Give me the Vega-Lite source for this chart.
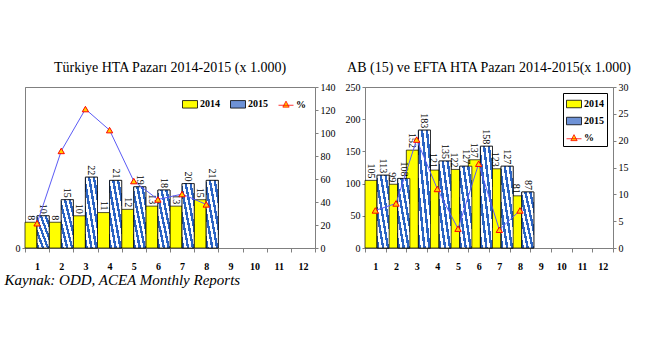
{
  "$schema": "https://vega.github.io/schema/vega-lite/v6.json",
  "background": "white",
  "padding": {"left": 4, "top": 60, "right": 0, "bottom": 0},
  "bounds": "flush",
  "spacing": 50,
  "datasets": {
    "tr_bars": [
      {"month": 1, "series": "2014", "value": 8}, {"month": 1, "series": "2015", "value": 10},
      {"month": 2, "series": "2014", "value": 8}, {"month": 2, "series": "2015", "value": 15},
      {"month": 3, "series": "2014", "value": 10}, {"month": 3, "series": "2015", "value": 22},
      {"month": 4, "series": "2014", "value": 11}, {"month": 4, "series": "2015", "value": 21},
      {"month": 5, "series": "2014", "value": 12}, {"month": 5, "series": "2015", "value": 19},
      {"month": 6, "series": "2014", "value": 13}, {"month": 6, "series": "2015", "value": 18},
      {"month": 7, "series": "2014", "value": 13}, {"month": 7, "series": "2015", "value": 20},
      {"month": 8, "series": "2014", "value": 15}, {"month": 8, "series": "2015", "value": 21}
    ],
    "tr_pct": [
      {"month": 1, "pct": 21.5}, {"month": 2, "pct": 84.4}, {"month": 3, "pct": 120.8}, {"month": 4, "pct": 102.5},
      {"month": 5, "pct": 58.2}, {"month": 6, "pct": 42.2}, {"month": 7, "pct": 46.9}, {"month": 8, "pct": 37.9}
    ],
    "eu_bars": [
      {"month": 1, "series": "2014", "value": 105}, {"month": 1, "series": "2015", "value": 113},
      {"month": 2, "series": "2014", "value": 99}, {"month": 2, "series": "2015", "value": 108},
      {"month": 3, "series": "2014", "value": 152}, {"month": 3, "series": "2015", "value": 183},
      {"month": 4, "series": "2014", "value": 121}, {"month": 4, "series": "2015", "value": 135},
      {"month": 5, "series": "2014", "value": 122}, {"month": 5, "series": "2015", "value": 127},
      {"month": 6, "series": "2014", "value": 137}, {"month": 6, "series": "2015", "value": 158},
      {"month": 7, "series": "2014", "value": 123}, {"month": 7, "series": "2015", "value": 127},
      {"month": 8, "series": "2014", "value": 81}, {"month": 8, "series": "2015", "value": 87}
    ],
    "eu_pct": [
      {"month": 1, "pct": 7.0}, {"month": 2, "pct": 8.3}, {"month": 3, "pct": 20.2}, {"month": 4, "pct": 11.0},
      {"month": 5, "pct": 3.6}, {"month": 6, "pct": 15.7}, {"month": 7, "pct": 3.4}, {"month": 8, "pct": 7.0}
    ]
  },
  "config": {
    "font": "Liberation Serif",
    "view": {"stroke": "#808080", "strokeWidth": 1},
    "axis": {
      "labelFont": "Liberation Serif", "labelFontSize": 10, "labelColor": "#000000",
      "domainColor": "#808080", "tickColor": "#808080", "grid": false, "title": null,
      "tickSize": 3, "labelPadding": 2
    },
    "axisX": {"labelFontWeight": "bold", "labelAngle": 0, "tickBand": "extent", "labelPadding": 9, "tickSize": 4},
    "title": {"font": "Liberation Serif", "fontSize": 14, "fontWeight": "normal", "color": "#000000", "offset": 7},
    "legend": {
      "title": null,
      "labelFont": "Liberation Serif", "labelFontWeight": "bold", "labelFontSize": 10, "labelColor": "#000000",
      "symbolType": "M-1,-0.5H1V0.5H-1Z", "symbolSize": 225, "symbolStrokeColor": "#000000", "symbolStrokeWidth": 0.8,
      "labelOffset": 2
    }
  },
  "title": {
    "text": "Kaynak: ODD, ACEA Monthly Reports",
    "orient": "bottom", "anchor": "start", "frame": "bounds",
    "fontStyle": "italic", "fontSize": 15, "offset": 1, "dx": -10
  },
  "resolve": {"scale": {"fill": "independent"}, "legend": {"fill": "independent"}},
  "hconcat": [
    {
      "width": 290, "height": 161,
      "title": "Türkiye HTA Pazarı 2014-2015 (x 1.000)",
      "layer": [
        {
          "data": {"name": "tr_bars"},
          "encoding": {
            "x": {"field": "month", "type": "ordinal", "scale": {"domain": [1,2,3,4,5,6,7,8,9,10,11,12], "paddingInner": 0, "paddingOuter": 0}},
            "xOffset": {"field": "series", "type": "nominal", "scale": {"domain": ["2014", "2015"], "paddingInner": 0, "paddingOuter": 0}},
            "y": {"field": "value", "type": "quantitative", "scale": {"domain": [0, 50]}, "axis": {"orient": "left", "values": [0]}}
          },
          "layer": [
            {
              "mark": {"type": "bar", "stroke": "#000000", "strokeWidth": 0.7},
              "encoding": {
                "fill": {
                  "field": "series", "type": "nominal",
                  "scale": {"domain": ["2014", "2015", "%"], "range": ["#FFFF00", "#6E92D6", "#FFD200"]},
                  "legend": {
                    "orient": "top-right", "direction": "horizontal", "offset": 9, "columnPadding": 8,
                    "encode": {"symbols": {"update": {
                      "shape": {"signal": "datum.value === '%' ? 'M-1,0.1H1M0,-0.45L0.42,0.35L-0.42,0.35Z' : 'M-1,-0.5H1V0.5H-1Z'"},
                      "stroke": {"signal": "datum.value === '%' ? '#FF0000' : '#000000'"}
                    }}}
                  }
                }
              }
            },
            {
              "transform": [{"filter": "datum.series === '2015'"}],
              "mark": {"type": "bar", "stroke": "#000000", "strokeWidth": 0.7,
                "fill": {"gradient": "linear", "x1": 0, "y1": 1, "x2": 1, "y2": 0, "stops": [
                  {"offset": 0, "color": "#2B64C4"}, {"offset": 0.1, "color": "#2B64C4"},
                  {"offset": 0.1, "color": "#FFFFFF"}, {"offset": 0.2, "color": "#FFFFFF"},
                  {"offset": 0.2, "color": "#2B64C4"}, {"offset": 0.3, "color": "#2B64C4"},
                  {"offset": 0.3, "color": "#FFFFFF"}, {"offset": 0.4, "color": "#FFFFFF"},
                  {"offset": 0.4, "color": "#2B64C4"}, {"offset": 0.5, "color": "#2B64C4"},
                  {"offset": 0.5, "color": "#FFFFFF"}, {"offset": 0.6, "color": "#FFFFFF"},
                  {"offset": 0.6, "color": "#2B64C4"}, {"offset": 0.7, "color": "#2B64C4"},
                  {"offset": 0.7, "color": "#FFFFFF"}, {"offset": 0.8, "color": "#FFFFFF"},
                  {"offset": 0.8, "color": "#2B64C4"}, {"offset": 0.9, "color": "#2B64C4"},
                  {"offset": 0.9, "color": "#FFFFFF"}, {"offset": 1, "color": "#FFFFFF"}
                ]}}
            },
            {
              "mark": {"type": "text", "angle": 90, "align": "right", "baseline": "middle", "dx": -2, "fontSize": 10, "color": "#000000"},
              "encoding": {"text": {"field": "value", "type": "quantitative"}}
            }
          ]
        },
        {
          "data": {"name": "tr_pct"},
          "encoding": {
            "x": {"field": "month", "type": "ordinal", "scale": {"domain": [1,2,3,4,5,6,7,8,9,10,11,12], "paddingInner": 0, "paddingOuter": 0}},
            "y": {"field": "pct", "type": "quantitative", "scale": {"domain": [0, 140]}, "axis": {"orient": "right", "values": [0,20,40,60,80,100,120,140]}}
          },
          "layer": [
            {"mark": {"type": "line", "color": "#5B5BF5", "strokeWidth": 1}},
            {"mark": {"type": "point", "shape": "triangle-up", "filled": true, "fill": "#FFD200", "stroke": "#FF0000", "strokeWidth": 1, "size": 40, "opacity": 1}}
          ]
        }
      ],
      "resolve": {"scale": {"y": "independent"}}
    },
    {
      "width": 248, "height": 161,
      "title": "AB (15) ve EFTA HTA Pazarı 2014-2015(x 1.000)",
      "layer": [
        {
          "data": {"name": "eu_bars"},
          "encoding": {
            "x": {"field": "month", "type": "ordinal", "scale": {"domain": [1,2,3,4,5,6,7,8,9,10,11,12], "paddingInner": 0, "paddingOuter": 0}},
            "xOffset": {"field": "series", "type": "nominal", "scale": {"domain": ["2014", "2015"], "paddingInner": 0, "paddingOuter": 0}},
            "y": {"field": "value", "type": "quantitative", "scale": {"domain": [0, 250]}, "axis": {"orient": "left", "values": [0,50,100,150,200,250]}}
          },
          "layer": [
            {
              "mark": {"type": "bar", "stroke": "#000000", "strokeWidth": 0.7},
              "encoding": {
                "fill": {
                  "field": "series", "type": "nominal",
                  "scale": {"domain": ["2014", "2015", "%"], "range": ["#FFFF00", "#6E92D6", "#FFD200"]},
                  "legend": {
                    "orient": "top-right", "direction": "vertical", "offset": 6,
                    "strokeColor": "#000000", "padding": 3, "rowPadding": 3,
                    "encode": {"symbols": {"update": {
                      "shape": {"signal": "datum.value === '%' ? 'M-1,0.1H1M0,-0.45L0.42,0.35L-0.42,0.35Z' : 'M-1,-0.5H1V0.5H-1Z'"},
                      "stroke": {"signal": "datum.value === '%' ? '#FF0000' : '#000000'"}
                    }}}
                  }
                }
              }
            },
            {
              "transform": [{"filter": "datum.series === '2015'"}],
              "mark": {"type": "bar", "stroke": "#000000", "strokeWidth": 0.7,
                "fill": {"gradient": "linear", "x1": 0, "y1": 1, "x2": 1, "y2": 0, "stops": [
                  {"offset": 0, "color": "#2B64C4"}, {"offset": 0.1, "color": "#2B64C4"},
                  {"offset": 0.1, "color": "#FFFFFF"}, {"offset": 0.2, "color": "#FFFFFF"},
                  {"offset": 0.2, "color": "#2B64C4"}, {"offset": 0.3, "color": "#2B64C4"},
                  {"offset": 0.3, "color": "#FFFFFF"}, {"offset": 0.4, "color": "#FFFFFF"},
                  {"offset": 0.4, "color": "#2B64C4"}, {"offset": 0.5, "color": "#2B64C4"},
                  {"offset": 0.5, "color": "#FFFFFF"}, {"offset": 0.6, "color": "#FFFFFF"},
                  {"offset": 0.6, "color": "#2B64C4"}, {"offset": 0.7, "color": "#2B64C4"},
                  {"offset": 0.7, "color": "#FFFFFF"}, {"offset": 0.8, "color": "#FFFFFF"},
                  {"offset": 0.8, "color": "#2B64C4"}, {"offset": 0.9, "color": "#2B64C4"},
                  {"offset": 0.9, "color": "#FFFFFF"}, {"offset": 1, "color": "#FFFFFF"}
                ]}}
            },
            {
              "mark": {"type": "text", "angle": 90, "align": "right", "baseline": "middle", "dx": -2, "fontSize": 10, "color": "#000000"},
              "encoding": {"text": {"field": "value", "type": "quantitative"}}
            }
          ]
        },
        {
          "data": {"name": "eu_pct"},
          "encoding": {
            "x": {"field": "month", "type": "ordinal", "scale": {"domain": [1,2,3,4,5,6,7,8,9,10,11,12], "paddingInner": 0, "paddingOuter": 0}},
            "y": {"field": "pct", "type": "quantitative", "scale": {"domain": [0, 30]}, "axis": {"orient": "right", "values": [0,5,10,15,20,25,30]}}
          },
          "layer": [
            {"mark": {"type": "line", "color": "#5B5BF5", "strokeWidth": 1}},
            {"mark": {"type": "point", "shape": "triangle-up", "filled": true, "fill": "#FFD200", "stroke": "#FF0000", "strokeWidth": 1, "size": 40, "opacity": 1}}
          ]
        }
      ],
      "resolve": {"scale": {"y": "independent"}}
    }
  ]
}
